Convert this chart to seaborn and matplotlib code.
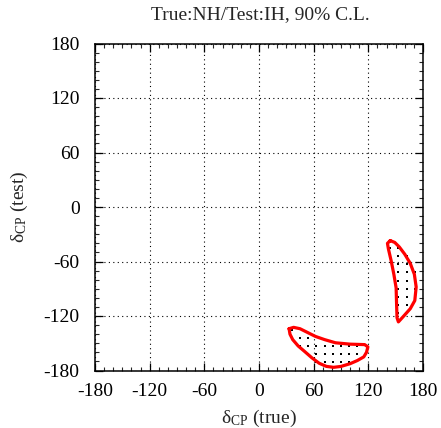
import numpy as np
import pandas as pd
import matplotlib
matplotlib.use("Agg")
import matplotlib.pyplot as plt
import seaborn as sns

# ---- data (degrees) ----
lower_x = [33, 38, 45, 53, 62, 72, 84, 100, 116, 119.5, 118, 115, 108, 100, 90, 82, 74, 66, 58, 50, 43, 37, 34, 33]
lower_y = [-134, -132.5, -134, -138, -142.5, -146, -149.5, -151, -151.5, -154, -160, -165, -169, -172.5, -175.5, -176.5, -175.5, -172, -166, -159, -153, -146, -140, -134]

right_x = [144, 149, 154, 160, 166, 170.5, 172.5, 171, 166, 158, 153, 151.5, 151, 150.5, 148, 145, 142, 141, 144]
right_y = [-37, -39, -44, -52, -62, -74, -88, -103, -112, -121, -126.5, -122, -107, -89, -74, -59, -46, -40, -37]

dots_lower_x = [36, 36, 45, 54, 45, 54, 63, 72, 81, 90, 99, 108, 54, 63, 72, 81, 90, 99, 108, 63, 72, 81, 90, 99]
dots_lower_y = [-135, -144, -144, -144, -153, -153, -153, -153, -153, -153, -153, -153,
                -162, -162, -162, -162, -162, -162, -162, -171, -171, -171, -171, -171]

dots_right_x = [144, 153, 153, 162, 153, 162, 153, 162, 171, 153, 162, 171, 153, 162, 171, 153, 162, 171, 153, 162, 153, 153]
dots_right_y = [-45, -45, -54, -54, -63, -63, -72, -72, -72, -81, -81, -81, -90, -90, -90, -99, -99, -99, -108, -108, -117, -126]

ticks = [-180, -120, -60, 0, 60, 120, 180]
title = "True:NH/Test:IH, 90% C.L."

# ---- style ----
sns.set_style("ticks")
plt.rcParams['font.family'] = ['Liberation Serif', 'DejaVu Serif']
plt.rcParams['mathtext.fontset'] = 'custom'
plt.rcParams['mathtext.rm'] = 'Liberation Serif'
plt.rcParams['mathtext.it'] = 'Liberation Serif:italic'

fig = plt.figure(figsize=(4.41, 4.28), dpi=100)
ax = fig.add_axes([95 / 441, 1 - 370.5 / 428, (423 - 95) / 441, (370.5 - 43.5) / 428])

df_dl = pd.DataFrame({"x": dots_lower_x, "y": dots_lower_y})
df_dr = pd.DataFrame({"x": dots_right_x, "y": dots_right_y})
dots = pd.concat([df_dl, df_dr], ignore_index=True)
sns.scatterplot(data=dots, x="x", y="y", ax=ax, color="black", s=4, marker="s",
                linewidth=0, zorder=3)

df_l = pd.DataFrame({"x": lower_x, "y": lower_y})
df_r = pd.DataFrame({"x": right_x, "y": right_y})
for d in (df_l, df_r):
    sns.lineplot(data=d, x="x", y="y", ax=ax, sort=False, estimator=None,
                 color="#ff0000", linewidth=2.3, zorder=4)

ax.set_xlim(-180, 180)
ax.set_ylim(-180, 180)
ax.set_xticks(ticks)
ax.set_yticks(ticks)
ax.set_xticklabels([str(t) for t in ticks])
ax.set_yticklabels([str(t) for t in ticks])
ax.set_xticks(np.arange(-180, 181, 10), minor=True)
ax.set_yticks(np.arange(-180, 181, 10), minor=True)
ax.tick_params(which="major", direction="in", length=6, width=0.9, top=True, right=True,
               labelsize=14, colors="black")
ax.tick_params(axis="x", which="major", pad=9)
ax.tick_params(axis="y", which="major", pad=11)
ax.tick_params(which="minor", direction="in", length=3, width=0.8, top=True, right=True)
ax.grid(True, which="major", color="black", linestyle=(0, (1, 3)), linewidth=0.8)
for s in ax.spines.values():
    s.set_linewidth(1.1)
    s.set_color("black")

ax.set_xlabel("δ$_{\\mathrm{CP}}$ (true)", fontsize=14, labelpad=6)
ax.set_ylabel("δ$_{\\mathrm{CP}}$ (test)", fontsize=14, labelpad=10)
fig.text(260 / 441, 1 - 15 / 428, title, ha="center", va="center", fontsize=14)

fig.savefig("out.png", dpi=100)
